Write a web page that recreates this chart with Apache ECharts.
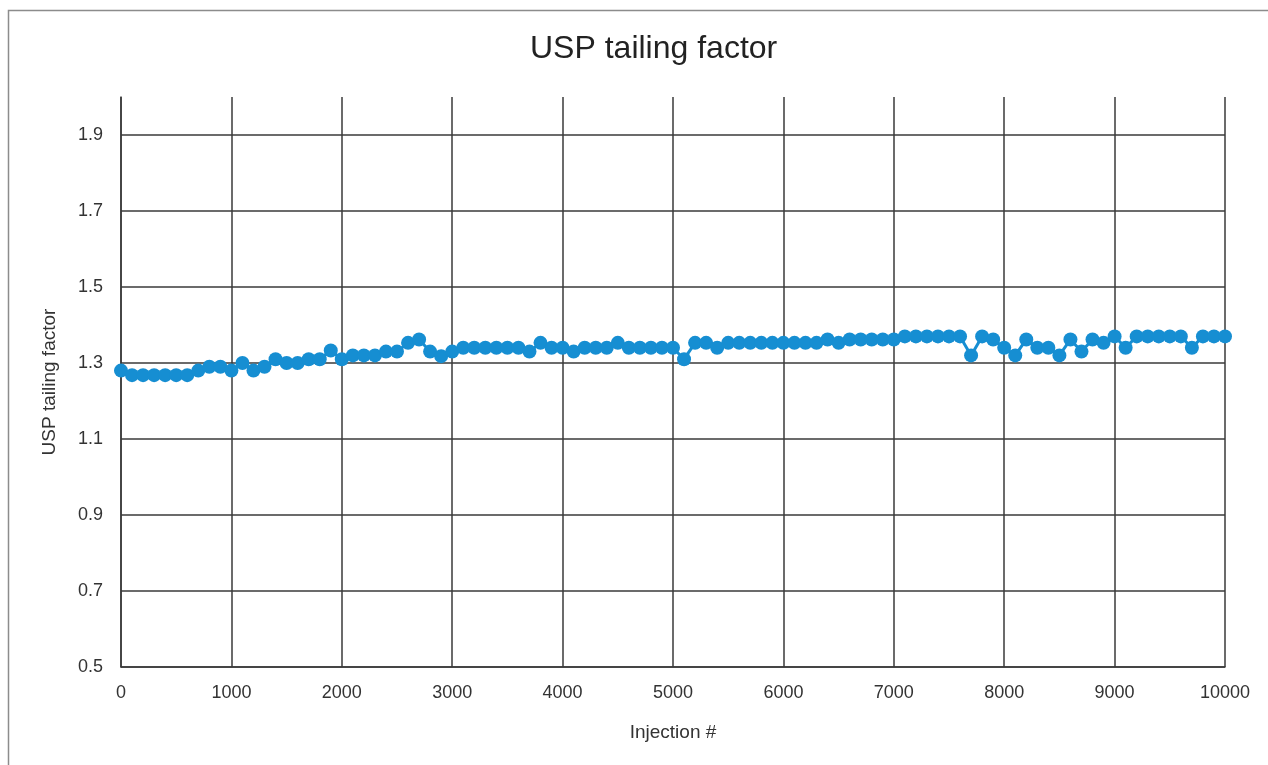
<!DOCTYPE html>
<html>
<head>
<meta charset="utf-8">
<script src="https://cdn.jsdelivr.net/npm/echarts@6/dist/echarts.min.js"></script>
<style>html,body{margin:0;padding:0;background:#fff}#c{width:1268px;height:765px}</style>
</head>
<body>
<div id="c"></div>
<script>
const injections = [0,100,200,300,400,500,600,700,800,900,1000,1100,1200,1300,1400,1500,1600,1700,1800,1900,2000,2100,2200,2300,2400,2500,2600,2700,2800,2900,3000,3100,3200,3300,3400,3500,3600,3700,3800,3900,4000,4100,4200,4300,4400,4500,4600,4700,4800,4900,5000,5100,5200,5300,5400,5500,5600,5700,5800,5900,6000,6100,6200,6300,6400,6500,6600,6700,6800,6900,7000,7100,7200,7300,7400,7500,7600,7700,7800,7900,8000,8100,8200,8300,8400,8500,8600,8700,8800,8900,9000,9100,9200,9300,9400,9500,9600,9700,9800,9900,10000];
const tailing = [1.28,1.268,1.268,1.268,1.268,1.268,1.268,1.28,1.29,1.29,1.28,1.30,1.28,1.29,1.31,1.30,1.30,1.31,1.31,1.333,1.31,1.32,1.32,1.32,1.33,1.33,1.353,1.362,1.33,1.318,1.33,1.34,1.34,1.34,1.34,1.34,1.34,1.33,1.353,1.34,1.34,1.33,1.34,1.34,1.34,1.353,1.34,1.34,1.34,1.34,1.34,1.31,1.353,1.353,1.34,1.353,1.353,1.353,1.353,1.353,1.353,1.353,1.353,1.353,1.362,1.353,1.362,1.362,1.362,1.362,1.362,1.37,1.37,1.37,1.37,1.37,1.37,1.32,1.37,1.362,1.34,1.32,1.362,1.34,1.34,1.32,1.362,1.33,1.362,1.353,1.37,1.34,1.37,1.37,1.37,1.37,1.37,1.34,1.37,1.37,1.37];
const yTicks = [0.5,0.7,0.9,1.1,1.3,1.5,1.7,1.9];

const chart = echarts.init(document.getElementById('c'));
const font = "'Liberation Sans', Arial, sans-serif";
const gridColors = yTicks.map(() => '#3a3a3a').concat(['rgba(0,0,0,0)']);
chart.setOption({
  animation: false,
  backgroundColor: '#fff',
  graphic: [{
    type: 'rect', shape: {x: 8.5, y: 10.5, width: 1300, height: 800},
    style: {fill: 'none', stroke: '#8c8c8c', lineWidth: 1.5}
  }],
  title: {
    text: 'USP tailing factor', left: 525, top: 28,
    textStyle: {fontFamily: font, fontSize: 32, fontWeight: 'normal', color: '#222'}
  },
  grid: {left: 121, right: 43, top: 97, bottom: 98, containLabel: false},
  xAxis: {
    type: 'value', min: 0, max: 10000, interval: 1000,
    name: 'Injection #', nameLocation: 'middle', nameGap: 56,
    nameTextStyle: {fontFamily: font, fontSize: 19, color: '#333'},
    axisLine: {show: true, lineStyle: {color: '#3a3a3a', width: 1.5}},
    axisTick: {show: false},
    axisLabel: {fontFamily: font, fontSize: 18, color: '#333', margin: 17, formatter: v => String(v)},
    splitLine: {show: true, lineStyle: {color: '#3a3a3a', width: 1.5}}
  },
  yAxis: {
    type: 'value', min: 0.5, max: 2.0, interval: 0.2,
    name: 'USP tailing factor', nameLocation: 'middle', nameGap: 62, nameRotate: 90,
    nameTextStyle: {fontFamily: font, fontSize: 19, color: '#333'},
    axisLine: {show: true, lineStyle: {color: '#3a3a3a', width: 1.5}},
    axisTick: {show: false},
    axisLabel: {fontFamily: font, fontSize: 18, color: '#333', margin: 18, showMaxLabel: false,
      formatter: v => yTicks.some(t => Math.abs(t - v) < 1e-6) ? v.toFixed(1) : ''},
    splitLine: {show: true, lineStyle: {color: gridColors, width: 1.5}}
  },
  series: [{
    type: 'line',
    data: injections.map((x, i) => [x, tailing[i]]),
    symbol: 'circle', symbolSize: 14,
    lineStyle: {color: '#168ed2', width: 3},
    itemStyle: {color: '#168ed2'},
    clip: false
  }]
});
</script>
</body>
</html>
